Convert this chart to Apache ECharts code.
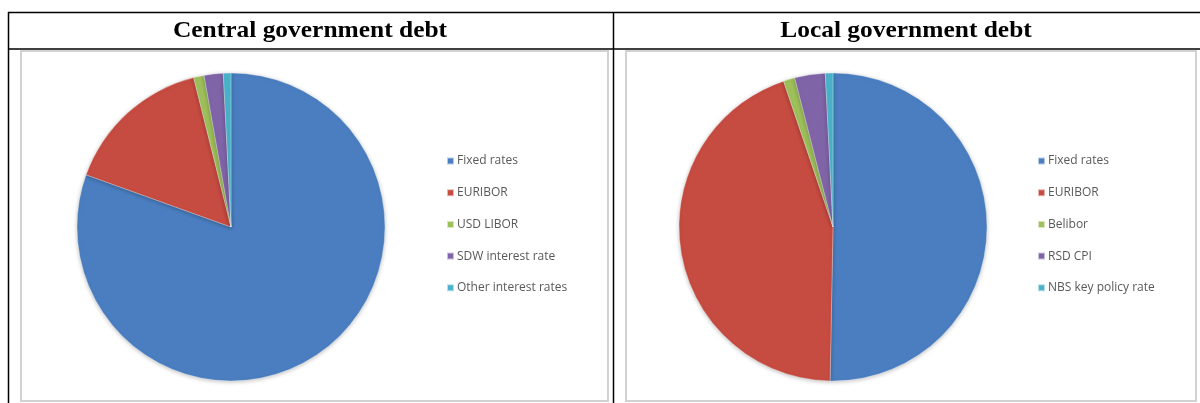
<!DOCTYPE html>
<html>
<head>
<meta charset="utf-8">
<script src="https://cdn.jsdelivr.net/npm/echarts@6/dist/echarts.min.js"></script>
<style>
  html, body { margin: 0; padding: 0; background: #fff; }
  #chart { width: 1200px; height: 403px; }
</style>
</head>
<body>
<div id="chart"></div>
<script>
// Debt structure by interest rate type (% share)
const centralTitle = 'Central government debt';
const localTitle = 'Local government debt';
const centralLabels = ['Fixed rates', 'EURIBOR', 'USD LIBOR', 'SDW interest rate', 'Other interest rates'];
const centralShares = [80.5, 15.6, 1.1, 2.0, 0.8];
const localLabels = ['Fixed rates', 'EURIBOR', 'Belibor', 'RSD CPI', 'NBS key policy rate'];
const localShares = [50.3, 44.5, 1.2, 3.2, 0.8];
const sliceColors = ['#4A7EC0', '#C64B41', '#9DC05A', '#8064A8', '#4BB2CB'];

const chart = echarts.init(document.getElementById('chart'), null, { renderer: 'canvas' });

function toData(labels, values) {
  return labels.map((name, i) => ({
    name: name,
    value: values[i],
    itemStyle: { color: sliceColors[i] }
  }));
}

const line = (x1, y1, x2, y2, color, w) => ({
  type: 'line', silent: true,
  shape: { x1, y1, x2, y2 },
  style: { stroke: color, lineWidth: w }
});
const frame = (x, y, w, h) => ({
  type: 'rect', silent: true, z: -1,
  shape: { x, y, width: w, height: h },
  style: { fill: '#fff', stroke: '#d2d2d2', lineWidth: 2 }
});
const header = (text, cx) => ({
  type: 'text', silent: true,
  x: cx, y: 31,
  scaleX: 1.06,
  style: {
    text: text, align: 'center', verticalAlign: 'middle',
    font: 'bold 24px "Liberation Serif", "Times New Roman", serif',
    fill: '#000'
  }
});

const legendBase = {
  orient: 'vertical',
  top: 154,
  padding: 0,
  itemWidth: 7,
  itemHeight: 7,
  itemGap: 17.7,
  icon: 'rect',
  selectedMode: false,
  textStyle: {
    fontFamily: '"Open Sans", "Liberation Sans", sans-serif',
    fontSize: 12,
    lineHeight: 14,
    color: '#595959',
    padding: [0, 0, 0, -2]
  }
};

chart.setOption({
  animation: false,
  backgroundColor: '#fff',
  graphic: [
    frame(21, 51, 587, 350),
    frame(626, 51, 570, 350),
    // table rules
    line(8, 12.5, 1200, 12.5, '#000', 1.5),
    line(8, 49, 1200, 49, '#000', 1.5),
    line(8.5, 12, 8.5, 403, '#000', 1.5),
    line(613.5, 12, 613.5, 403, '#000', 1.5),
    header(centralTitle, 310),
    header(localTitle, 906)
  ],
  legend: [
    Object.assign({}, legendBase, { left: 446, data: centralLabels }),
    Object.assign({}, legendBase, { left: 1037, data: localLabels })
  ],
  series: [
    {
      type: 'pie',
      center: [231, 227],
      radius: 154,
      startAngle: 90,
      clockwise: true,
      label: { show: false },
      labelLine: { show: false },
      silent: true,
      itemStyle: {
        borderColor: 'rgba(255,255,255,0.6)', borderWidth: 0.5,
        shadowBlur: 4, shadowOffsetY: 1, shadowColor: 'rgba(0,0,0,0.25)'
      },
      data: toData(centralLabels, centralShares)
    },
    {
      type: 'pie',
      center: [833, 227],
      radius: 154,
      startAngle: 90,
      clockwise: true,
      label: { show: false },
      labelLine: { show: false },
      silent: true,
      itemStyle: {
        borderColor: 'rgba(255,255,255,0.6)', borderWidth: 0.5,
        shadowBlur: 4, shadowOffsetY: 1, shadowColor: 'rgba(0,0,0,0.25)'
      },
      data: toData(localLabels, localShares)
    }
  ]
});
</script>
</body>
</html>
